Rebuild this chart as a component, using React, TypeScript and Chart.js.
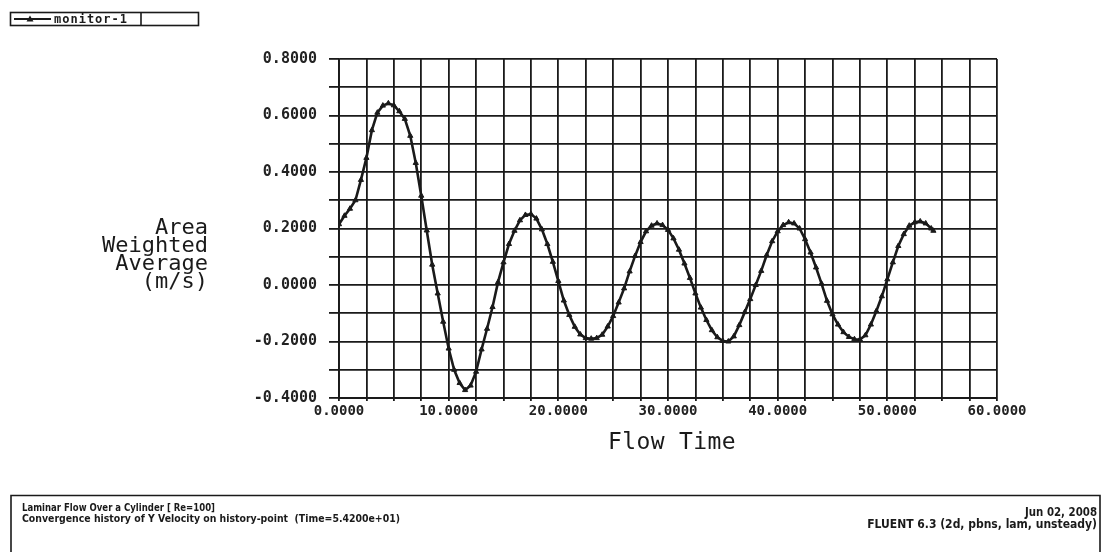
import { useEffect, useRef } from 'react';
import { Chart, registerables } from 'chart.js';

Chart.register(...registerables);

const legendLabel = 'monitor-1';
const xAxisTitle = 'Flow Time';
const yAxisTitle = ['Area', 'Weighted', 'Average', '(m/s)'];
const footerLeft = [
  'Laminar Flow Over a Cylinder [ Re=100]',
  'Convergence history of Y Velocity on history-point  (Time=5.4200e+01)',
];
const footerRight = ['Jun 02, 2008', 'FLUENT 6.3 (2d, pbns, lam, unsteady)'];

const flowTime = [
  0, 0.5, 1, 1.5, 2, 2.5, 3, 3.5, 4, 4.5, 5, 5.5, 6, 6.5, 7, 7.5, 8, 8.5, 9, 9.5,
  10, 10.5, 11, 11.5, 12, 12.5, 13, 13.5, 14, 14.5, 15, 15.5, 16, 16.5, 17, 17.5, 18, 18.5, 19, 19.5,
  20, 20.5, 21, 21.5, 22, 22.5, 23, 23.5, 24, 24.5, 25, 25.5, 26, 26.5, 27, 27.5, 28, 28.5, 29, 29.5,
  30, 30.5, 31, 31.5, 32, 32.5, 33, 33.5, 34, 34.5, 35, 35.5, 36, 36.5, 37, 37.5, 38, 38.5, 39, 39.5,
  40, 40.5, 41, 41.5, 42, 42.5, 43, 43.5, 44, 44.5, 45, 45.5, 46, 46.5, 47, 47.5, 48, 48.5, 49, 49.5,
  50, 50.5, 51, 51.5, 52, 52.5, 53, 53.5, 54, 54.2,
];

const yVelocity = [
  0.215, 0.245, 0.27, 0.3, 0.372, 0.45, 0.548, 0.61, 0.635, 0.643, 0.636, 0.615, 0.588, 0.528, 0.432, 0.316, 0.193, 0.072, -0.03, -0.13,
  -0.225, -0.3, -0.347, -0.372, -0.356, -0.307, -0.228, -0.155, -0.078, 0.01, 0.08, 0.145, 0.192, 0.229, 0.248, 0.251, 0.235, 0.197, 0.145, 0.082,
  0.014, -0.055, -0.106, -0.148, -0.175, -0.188, -0.19, -0.188, -0.176, -0.147, -0.11, -0.062, -0.012, 0.048, 0.103, 0.152, 0.19, 0.21, 0.218, 0.212,
  0.195, 0.165, 0.125, 0.076, 0.025, -0.03, -0.08, -0.124, -0.16, -0.185, -0.198, -0.2, -0.182, -0.142, -0.096, -0.05, 0.0, 0.05, 0.106, 0.155,
  0.19, 0.212, 0.222, 0.218, 0.2, 0.162, 0.115, 0.062, 0.005, -0.056, -0.104, -0.14, -0.167, -0.184, -0.192, -0.193, -0.178, -0.14, -0.092, -0.04,
  0.02, 0.08, 0.138, 0.18, 0.21, 0.222, 0.225, 0.218, 0.2, 0.192,
];

const ink = '#1a1a1a';

const overlayPlugin = {
  id: 'fluentOverlay',
  afterDraw(chart: any) {
    const ctx: CanvasRenderingContext2D = chart.ctx;
    ctx.save();
    ctx.fillStyle = ink;
    ctx.strokeStyle = ink;

    // legend box (top-left)
    ctx.lineWidth = 1.6;
    ctx.strokeRect(10.5, 12.5, 188, 13);
    ctx.beginPath();
    ctx.moveTo(141, 12.5);
    ctx.lineTo(141, 25.5);
    ctx.stroke();
    ctx.lineWidth = 2;
    ctx.beginPath();
    ctx.moveTo(14, 19);
    ctx.lineTo(51, 19);
    ctx.stroke();
    ctx.beginPath();
    ctx.moveTo(30, 15.5);
    ctx.lineTo(33.5, 21.5);
    ctx.lineTo(26.5, 21.5);
    ctx.closePath();
    ctx.fill();
    (ctx as any).letterSpacing = '1px';
    ctx.font = "bold 12px 'DejaVu Sans Mono'";
    ctx.textAlign = 'left';
    ctx.textBaseline = 'middle';
    ctx.fillText(legendLabel, 54, 19.5, 82);

    // y axis title
    (ctx as any).letterSpacing = '0px';
    ctx.font = "22px 'DejaVu Sans Mono'";
    ctx.textAlign = 'right';
    ctx.textBaseline = 'middle';
    const yLines = [228, 246, 264, 282];
    yAxisTitle.forEach((t, i) => ctx.fillText(t, 208, yLines[i]));

    // x axis title
    (ctx as any).letterSpacing = '0.4px';
    ctx.font = "23px 'DejaVu Sans Mono'";
    ctx.textAlign = 'center';
    ctx.fillText(xAxisTitle, 672, 443);

    // footer box
    (ctx as any).letterSpacing = '0px';
    ctx.lineWidth = 1.6;
    ctx.beginPath();
    ctx.moveTo(11, 560);
    ctx.lineTo(11, 495.5);
    ctx.lineTo(1100, 495.5);
    ctx.lineTo(1100, 560);
    ctx.stroke();

    ctx.textAlign = 'left';
    ctx.font = "bold 11px 'DejaVu Sans Condensed', 'DejaVu Sans'";
    ctx.fillText(footerLeft[0], 22, 508, 193);
    ctx.fillText(footerLeft[1], 22, 519, 378);

    ctx.textAlign = 'right';
    ctx.font = "bold 12px 'DejaVu Sans Condensed', 'DejaVu Sans'";
    ctx.fillText(footerRight[0], 1097, 513, 72);
    ctx.fillText(footerRight[1], 1097, 525, 278);

    ctx.restore();
  },
};

export default function App() {
  const ref = useRef<HTMLCanvasElement>(null);

  useEffect(() => {
    document.body.style.margin = '0';
    const canvas = ref.current;
    if (!canvas) return;
    const chart = new Chart(canvas, {
      type: 'line',
      data: {
        datasets: [
          {
            label: legendLabel,
            data: flowTime.map((t, i) => ({ x: t, y: yVelocity[i] })),
            borderColor: ink,
            backgroundColor: ink,
            borderWidth: 2.6,
            pointStyle: 'triangle',
            pointRadius: 3,
            pointBorderWidth: 1,
            pointBackgroundColor: ink,
            tension: 0,
          },
        ],
      },
      options: {
        responsive: false,
        animation: false,
        devicePixelRatio: 1,
        layout: { padding: { left: 0, top: 59, right: 108, bottom: 0 } },
        plugins: {
          legend: { display: false },
          tooltip: { enabled: false },
          title: { display: false },
        },
        scales: {
          x: {
            type: 'linear',
            min: 0,
            max: 60,
            afterFit: (s: any) => {
              s.height = 154;
            },
            ticks: {
              stepSize: 2.5,
              autoSkip: false,
              maxRotation: 0,
              padding: 2,
              color: '#222',
              font: { family: 'DejaVu Sans Mono', weight: 'bold', size: 14 },
              callback: (v: any, i: number) => (i % 4 === 0 ? Number(v).toFixed(4) : ''),
            },
            grid: { color: ink, lineWidth: 1.8, tickLength: 3 },
            border: { color: ink, width: 1.9 },
          },
          y: {
            type: 'linear',
            min: -0.4,
            max: 0.8,
            afterFit: (s: any) => {
              s.width = 339;
            },
            ticks: {
              stepSize: 0.1,
              autoSkip: false,
              padding: 12,
              color: '#222',
              font: { family: 'DejaVu Sans Mono', weight: 'bold', size: 15 },
              callback: (v: any, i: number) => {
                if (i % 2 !== 0) return '';
                const n = Math.abs(Number(v)) < 1e-9 ? 0 : Number(v);
                return n.toFixed(4);
              },
            },
            grid: { color: ink, lineWidth: 1.8, tickLength: 10 },
            border: { color: ink, width: 1.9 },
          },
        },
      },
      plugins: [overlayPlugin],
    });
    return () => chart.destroy();
  }, []);

  return <canvas ref={ref} width={1105} height={552} style={{ display: 'block' }} />;
}
